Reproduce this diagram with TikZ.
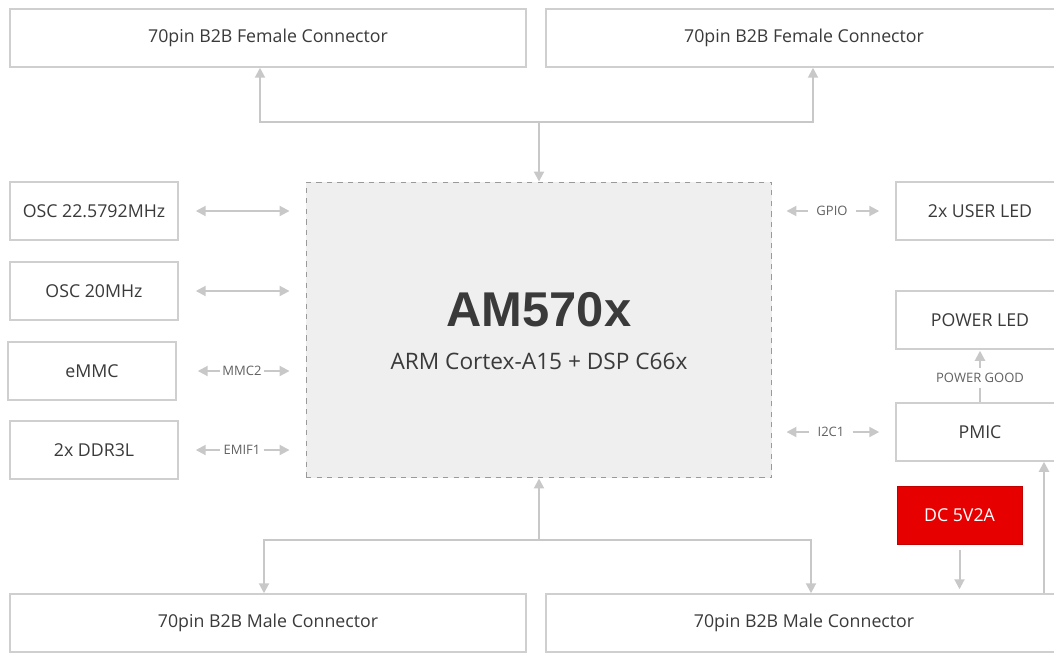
\documentclass[tikz,border=0pt]{standalone}
\usepackage{fontspec}
\setmainfont{Open Sans}
\newfontfamily\titlefont{Liberation Sans}
\usetikzlibrary{arrows.meta}
\definecolor{txt}{HTML}{3A3A3A}
\definecolor{bord}{HTML}{CFCFCF}
\definecolor{arrc}{HTML}{C8C8C8}
\definecolor{amfill}{HTML}{EFEFEF}
\definecolor{amline}{HTML}{9A9A9A}
\definecolor{dcred}{HTML}{E60000}
\tikzset{
  blk/.style={draw=bord, line width=0.03cm, fill=white, inner sep=0pt, minimum height=1.16cm, text=txt, font=\fontsize{10.1pt}{12pt}\selectfont},
  arr/.style={draw=arrc, line width=0.04cm, -{Triangle[length=0.2cm,width=0.2cm]}},
  dbl/.style={draw=arrc, line width=0.04cm, {Triangle[length=0.2cm,width=0.2cm]}-{Triangle[length=0.2cm,width=0.2cm]}},
  ln/.style={draw=arrc, line width=0.04cm},
  lbl/.style={text=txt!80, font=\fontsize{7.4pt}{9pt}\selectfont, inner sep=0pt},
}
\begin{document}
\begin{tikzpicture}[x=0.02cm, y=-0.02cm]
\useasboundingbox (0,0) rectangle (1054,653);
\clip (0,0) rectangle (1054,653);
% top connectors
\node[blk, minimum width=10.32cm] (fl) at (268,38) {70pin B2B Female Connector};
\node[blk, minimum width=10.32cm] (fr) at (804,38) {70pin B2B Female Connector};
% AM570x
\node[draw=amline, dashed, fill=amfill, line width=0.02cm, minimum width=9.32cm, minimum height=5.92cm, inner sep=0pt] (am) at (539,330) {};
\node[text=txt, font=\titlefont\bfseries\fontsize{27.8pt}{30pt}\selectfont, inner sep=0pt] (amt) at (539,310) {AM570x};
\node[text=txt, font=\fontsize{12.9pt}{15pt}\selectfont, inner sep=0pt] (ams) at (539,361) {ARM Cortex-A15 + DSP C66x};
% left blocks
\node[blk, minimum width=3.36cm] (osc1) at (94,211) {OSC 22.5792MHz};
\node[blk, minimum width=3.36cm] (osc2) at (94,291) {OSC 20MHz};
\node[blk, minimum width=3.36cm] (emmc) at (92,371) {eMMC};
\node[blk, minimum width=3.36cm] (ddr) at (94,450) {2x DDR3L};
% right blocks
\node[blk, minimum width=3.36cm] (uled) at (980,211) {2x USER LED};
\node[blk, minimum width=3.36cm] (pled) at (980,320) {POWER LED};
\node[blk, minimum width=3.36cm] (pmic) at (980,432) {PMIC};
\node[draw=dcred!85!black, line width=0.02cm, fill=dcred, text=white, inner sep=0pt, minimum width=2.5cm, minimum height=1.16cm, font=\fontsize{10.1pt}{12pt}\selectfont] (dc) at (959.5,515) {DC 5V2A};
% bottom connectors
\node[blk, minimum width=10.32cm] (ml) at (268,623) {70pin B2B Male Connector};
\node[blk, minimum width=10.32cm] (mr) at (804,623) {70pin B2B Male Connector};
% junctions
\coordinate (tj) at (539,122);
\coordinate (bj) at (539,540);
% top bus
\draw[arr] (tj) -| ([xshift=-0.16cm]fl.south);
\draw[arr] (tj) -| ([xshift=0.18cm]fr.south);
\draw[arr] (tj) -- (am.north);
% bottom bus
\draw[arr] (bj) -- (am.south);
\draw[arr] (bj) -| ([xshift=-0.08cm]ml.north);
\draw[arr] (bj) -| ([xshift=0.14cm]mr.north);
% left links
\draw[dbl] ([xshift=0.34cm]osc1.east) -- ([xshift=-0.32cm]am.west |- osc1.east);
\draw[dbl] ([xshift=0.34cm]osc2.east) -- ([xshift=-0.32cm]am.west |- osc2.east);
\node[lbl] (mmc) at (242,371) {MMC2};
\draw[arr] ([xshift=-0.04cm]mmc.west) -- ([xshift=0.42cm]emmc.east);
\draw[arr] ([xshift=0.04cm]mmc.east) -- ([xshift=-0.32cm]am.west |- emmc.east);
\node[lbl] (emif) at (242,450) {EMIF1};
\draw[arr] ([xshift=-0.06cm]emif.west) -- ([xshift=0.34cm]ddr.east);
\draw[arr] ([xshift=0.06cm]emif.east) -- ([xshift=-0.32cm]am.west |- ddr.east);
% right links
\node[lbl] (gpio) at (832,211) {GPIO};
\draw[arr] ([xshift=-0.16cm]gpio.west) -- ([xshift=0.28cm]am.east |- gpio.west);
\draw[arr] ([xshift=0.16cm]gpio.east) -- ([xshift=-0.32cm]uled.west);
\node[lbl] (i2c) at (831,432) {I2C1};
\draw[arr] ([xshift=-0.16cm]i2c.west) -- ([xshift=0.28cm]am.east |- i2c.west);
\draw[arr] ([xshift=0.16cm]i2c.east) -- ([xshift=-0.32cm]pmic.west);
\node[lbl] (pg) at (980,378) {POWER GOOD};
\draw[arr] ([yshift=0.1cm]pg.north) -- ([yshift=-0.02cm]pled.south);
\draw[ln] ([yshift=-0.1cm]pg.south) -- (pmic.north);
% power
\draw[arr, shorten <=0.1cm, shorten >=0.08cm] (dc.south) -- (dc.south |- mr.north);
\draw[arr] ([xshift=1.28cm]pmic.south |- mr.north) -- ([xshift=1.28cm]pmic.south);
\end{tikzpicture}
\end{document}
